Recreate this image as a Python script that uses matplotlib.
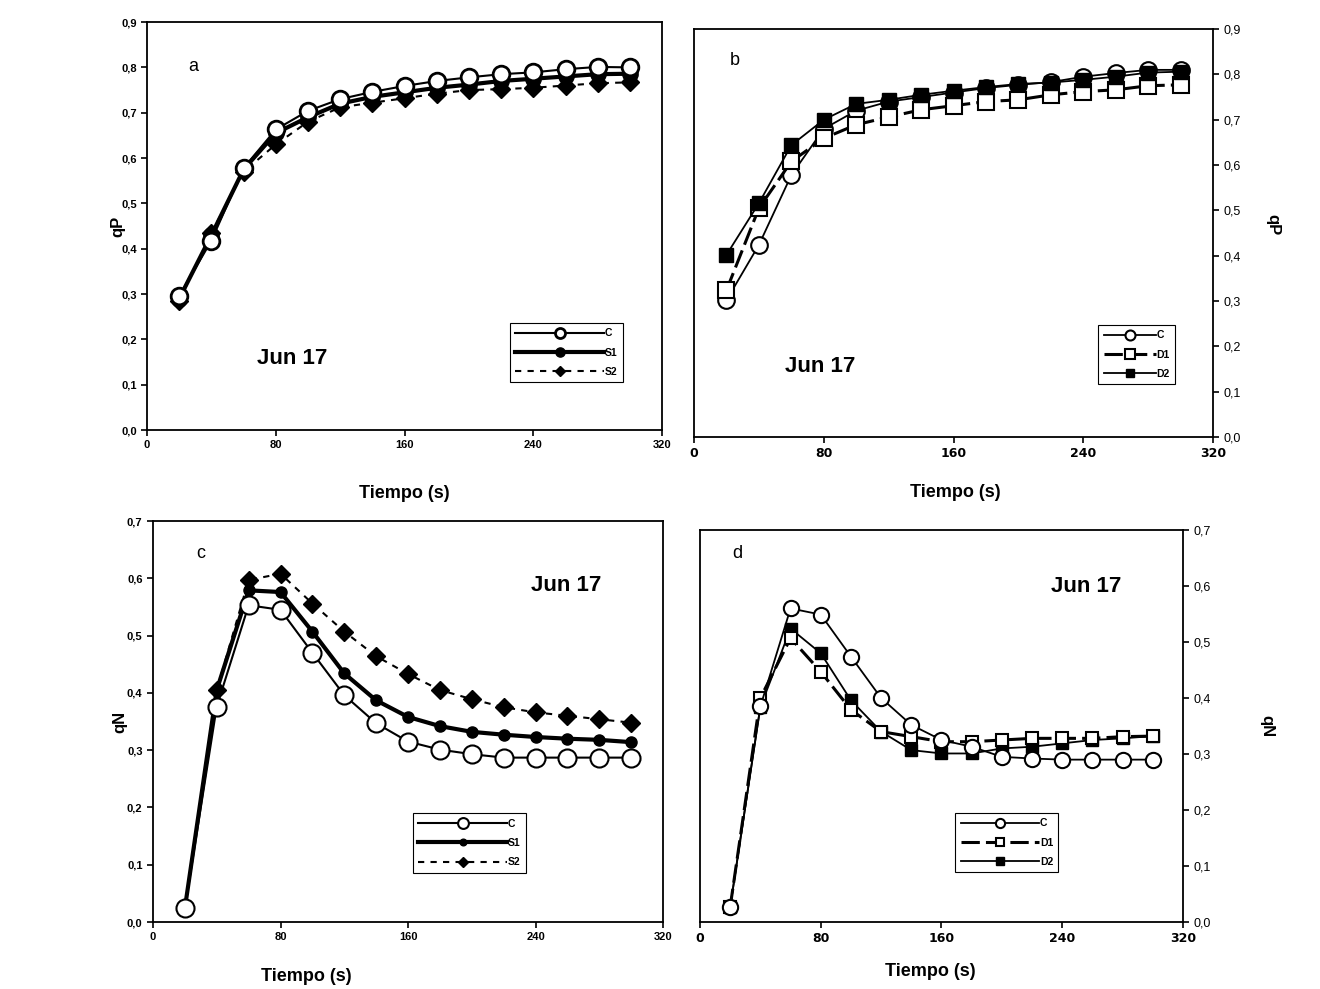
import numpy as np
import matplotlib
matplotlib.use("Agg")
import matplotlib.pyplot as plt
from matplotlib.ticker import FuncFormatter

# time points (s)
tiempo = [20, 40, 60, 80, 100, 120, 140, 160, 180, 200, 220, 240, 260, 280, 300]

# panel a: qP, C / S1 / S2
qp_a_C = [0.296, 0.418, 0.578, 0.663, 0.704, 0.730, 0.746, 0.759, 0.770, 0.778, 0.785, 0.789, 0.796, 0.801, 0.800]
qp_a_S1 = [0.290, 0.430, 0.575, 0.655, 0.690, 0.720, 0.735, 0.745, 0.755, 0.762, 0.770, 0.775, 0.780, 0.785, 0.786]
qp_a_S2 = [0.285, 0.435, 0.570, 0.630, 0.680, 0.712, 0.722, 0.732, 0.742, 0.750, 0.752, 0.755, 0.760, 0.765, 0.767]

# panel b: qP, C / D1 / D2
qp_b_C = [0.302, 0.424, 0.578, 0.680, 0.720, 0.740, 0.750, 0.760, 0.770, 0.777, 0.783, 0.795, 0.803, 0.810, 0.810]
qp_b_D1 = [0.324, 0.505, 0.608, 0.659, 0.689, 0.706, 0.722, 0.731, 0.740, 0.744, 0.755, 0.762, 0.766, 0.775, 0.777]
qp_b_D2 = [0.402, 0.516, 0.644, 0.700, 0.735, 0.744, 0.755, 0.764, 0.772, 0.779, 0.782, 0.788, 0.795, 0.804, 0.806]

# panel c: qN, C / S1 / S2
qn_c_C = [0.024, 0.376, 0.553, 0.545, 0.470, 0.396, 0.347, 0.315, 0.301, 0.293, 0.287, 0.287, 0.287, 0.287, 0.287]
qn_c_S1 = [0.024, 0.405, 0.579, 0.576, 0.507, 0.434, 0.387, 0.358, 0.342, 0.332, 0.327, 0.323, 0.320, 0.318, 0.314]
qn_c_S2 = [0.024, 0.405, 0.597, 0.608, 0.556, 0.507, 0.464, 0.433, 0.405, 0.389, 0.375, 0.366, 0.360, 0.354, 0.348]

# panel d: qN, C / D1 / D2
qn_d_C = [0.027, 0.385, 0.560, 0.549, 0.474, 0.400, 0.352, 0.325, 0.313, 0.295, 0.292, 0.290, 0.290, 0.290, 0.290]
qn_d_D1 = [0.027, 0.400, 0.507, 0.447, 0.379, 0.340, 0.331, 0.322, 0.322, 0.325, 0.328, 0.328, 0.328, 0.331, 0.332]
qn_d_D2 = [0.027, 0.384, 0.524, 0.480, 0.396, 0.340, 0.307, 0.301, 0.301, 0.310, 0.313, 0.319, 0.325, 0.328, 0.332]

xticks = [0, 80, 160, 240, 320]

plt.rcParams['font.family'] = ['Liberation Sans', 'DejaVu Sans']

fig = plt.figure(figsize=(13.2, 9.89), dpi=100)

comma = FuncFormatter(lambda v, p: ("%.1f" % v).replace(".", ","))


def setup(ax, ymax, right, ylab, tickfont, tsize):
    ax.set_xlim(0, 320)
    ax.set_ylim(0, ymax)
    ax.set_xticks(xticks)
    ax.set_yticks(np.arange(0, ymax + 0.001, 0.1))
    ax.yaxis.set_major_formatter(comma)
    for s in ax.spines.values():
        s.set_linewidth(1.3)
    ax.tick_params(direction='out', length=4, width=1.2, labelsize=tsize)
    for lab in ax.get_xticklabels() + ax.get_yticklabels():
        lab.set_fontweight('bold')
        lab.set_family(tickfont)
    if right:
        ax.yaxis.tick_right()
        ax.yaxis.set_label_position('right')
        ax.set_ylabel(ylab, fontsize=12, fontweight='bold', rotation=270, labelpad=14)
    else:
        ax.set_ylabel(ylab, fontsize=12, fontweight='bold')
    ax.set_xlabel('Tiempo (s)', fontsize=13, fontweight='bold')


def legend(ax, x0, ytop, hl):
    leg = ax.legend(loc='upper left', bbox_to_anchor=(x0, ytop), frameon=True, fancybox=False,
                    edgecolor='black', framealpha=1, fontsize=7.5, handlelength=hl,
                    markerscale=0.6, borderpad=0.5, labelspacing=0.9, handletextpad=0.1,
                    markerfirst=True)
    leg.get_frame().set_linewidth(0.8)
    for t in leg.get_texts():
        t.set_fontweight('bold')


# ---- panel a
ax = fig.add_axes([0.1114, 0.5652, 0.3902, 0.4125])
ax.plot(tiempo, qp_a_C, '-o', color='black', lw=1.5, ms=12, mfc='white', mew=2, label='C', zorder=3)
ax.plot(tiempo, qp_a_S1, '-o', color='black', lw=3, ms=11, label='S1', zorder=2)
ax.plot(tiempo, qp_a_S2, '--D', color='black', lw=1.5, ms=9, dashes=(3, 3), label='S2', zorder=1)
setup(ax, 0.9, False, 'qP', 'Liberation Sans', 8)
ax.yaxis.set_label_coords(-0.042, 0.5)
ax.xaxis.set_label_coords(0.5, -0.135)
legend(ax, 0.695, 0.275, 8.5)
ax.text(0.089, 0.892, 'a', transform=ax.transAxes, fontsize=13, ha='center', va='center')
ax.text(0.282, 0.176, 'Jun 17', transform=ax.transAxes, fontsize=16, fontweight='bold', ha='center', va='center')

# ---- panel b
ax = fig.add_axes([0.5258, 0.5581, 0.3932, 0.4125])
ax.plot(tiempo, qp_b_C, '-o', color='black', lw=1.3, ms=12, mfc='white', mew=1.5, label='C', zorder=1)
ax.plot(tiempo, qp_b_D1, '--s', color='black', lw=2.2, ms=11, mfc='white', mew=1.5, dashes=(6, 2), label='D1', zorder=2)
ax.plot(tiempo, qp_b_D2, '-s', color='black', lw=1.3, ms=10, label='D2', zorder=3)
setup(ax, 0.9, True, 'qP', 'DejaVu Sans', 9)
ax.yaxis.set_label_coords(1.13, 0.52)
ax.xaxis.set_label_coords(0.503, -0.115)
legend(ax, 0.769, 0.287, 5.0)
ax.text(0.079, 0.924, 'b', transform=ax.transAxes, fontsize=13, ha='center', va='center')
ax.text(0.243, 0.174, 'Jun 17', transform=ax.transAxes, fontsize=16, fontweight='bold', ha='center', va='center')

# ---- panel c
ax = fig.add_axes([0.1159, 0.0677, 0.3864, 0.4055])
ax.plot(tiempo, qn_c_C, '-o', color='black', lw=1.5, ms=13, mfc='white', mew=1.5, label='C', zorder=3)
ax.plot(tiempo, qn_c_S1, '-o', color='black', lw=3, ms=8, label='S1', zorder=2)
ax.plot(tiempo, qn_c_S2, '--D', color='black', lw=1.5, ms=9, dashes=(3, 3), label='S2', zorder=1)
setup(ax, 0.7, False, 'qN', 'Liberation Sans', 8)
ax.yaxis.set_label_coords(-0.05, 0.5)
ax.xaxis.set_label_coords(0.30, -0.115)
legend(ax, 0.50, 0.284, 8.5)
ax.text(0.094, 0.92, 'c', transform=ax.transAxes, fontsize=13, ha='center', va='center')
ax.text(0.81, 0.838, 'Jun 17', transform=ax.transAxes, fontsize=16, fontweight='bold', ha='center', va='center')

# ---- panel d
ax = fig.add_axes([0.5303, 0.0677, 0.3659, 0.3964])
ax.plot(tiempo, qn_d_C, '-o', color='black', lw=1.3, ms=11, mfc='white', mew=1.5, label='C', zorder=3)
ax.plot(tiempo, qn_d_D1, '--s', color='black', lw=2.2, ms=9, mfc='white', mew=1.5, dashes=(6, 2), label='D1', zorder=2)
ax.plot(tiempo, qn_d_D2, '-s', color='black', lw=1.3, ms=9, label='D2', zorder=1)
setup(ax, 0.7, True, 'qN', 'DejaVu Sans', 9)
ax.yaxis.set_label_coords(1.19, 0.5)
ax.xaxis.set_label_coords(0.476, -0.105)
legend(ax, 0.518, 0.291, 7.5)
ax.text(0.077, 0.939, 'd', transform=ax.transAxes, fontsize=13, ha='center', va='center')
ax.text(0.80, 0.855, 'Jun 17', transform=ax.transAxes, fontsize=16, fontweight='bold', ha='center', va='center')

fig.savefig('out.png', dpi=100, facecolor='white')
